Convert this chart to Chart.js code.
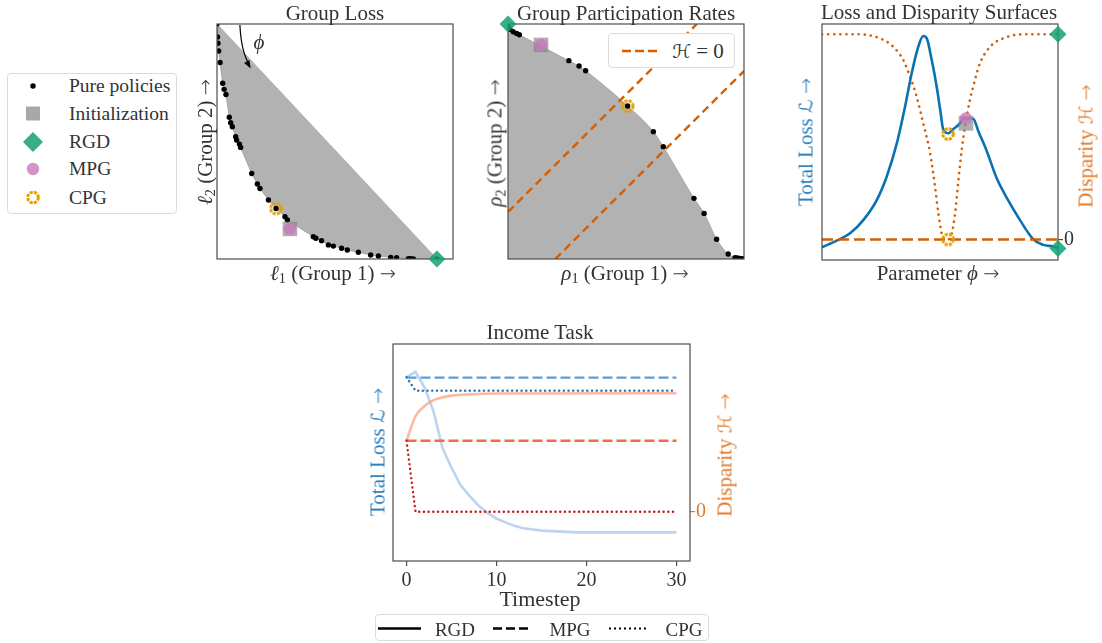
<!DOCTYPE html>
<html>
<head>
<meta charset="utf-8">
<script src="https://cdn.jsdelivr.net/npm/chart.js@4.4.1/dist/chart.umd.min.js"></script>
<style>
  html, body { margin: 0; padding: 0; background: #fff; }
  body { width: 1102px; height: 643px; position: relative; overflow: hidden;
         font-family: "Liberation Serif", "DejaVu Serif", serif; color: #333; }
  canvas { position: absolute; }
  .lbl { position: absolute; white-space: nowrap; line-height: 1; transform: translate(-50%, -50%); }
  .rot { transform: translate(-50%, -50%) rotate(-90deg); }
  sub { font-size: 0.68em; vertical-align: -0.28em; line-height: 0; }
  .arr { font-family: "DejaVu Sans", sans-serif; font-size: 0.92em; font-weight: 300; }
  .cal { font-family: "DejaVu Sans", sans-serif; font-style: italic; font-size: 0.9em; }
  .legend { position: absolute; border: 1px solid #dcdcdc; border-radius: 4px; box-sizing: border-box; background: #fff; }
  .legend svg { position: absolute; left: 0; top: 0; }
</style>
</head>
<body>

<canvas id="c1" width="268" height="267" style="left:201px;top:8px"></canvas>
<canvas id="c2" width="268" height="267" style="left:492px;top:8px"></canvas>
<canvas id="c3" width="284" height="268" style="left:806px;top:8px"></canvas>
<canvas id="c4" width="345" height="267" style="left:377px;top:328px"></canvas>

<!-- titles -->
<div class="lbl" style="left:335px;top:13px;font-size:21px">Group Loss</div>
<div class="lbl" style="left:626px;top:13px;font-size:21px">Group Participation Rates</div>
<div class="lbl" style="left:939px;top:12px;font-size:21px">Loss and Disparity Surfaces</div>
<div class="lbl" style="left:540px;top:332px;font-size:21px">Income Task</div>

<!-- axis labels -->
<div class="lbl" style="left:333px;top:273px;font-size:21px"><i>ℓ</i><sub>1</sub> (Group 1) <span class="arr">→</span></div>
<div class="lbl rot" style="left:205px;top:142px;font-size:21px"><i>ℓ</i><sub>2</sub> (Group 2) <span class="arr">→</span></div>
<div class="lbl" style="left:625px;top:273px;font-size:21px"><i>ρ</i><sub>1</sub> (Group 1) <span class="arr">→</span></div>
<div class="lbl rot" style="left:495px;top:143px;font-size:21px"><i>ρ</i><sub>2</sub> (Group 2) <span class="arr">→</span></div>
<div class="lbl" style="left:938px;top:273px;font-size:21px">Parameter <i>ϕ</i> <span class="arr">→</span></div>
<div class="lbl rot" style="left:806px;top:142px;font-size:21px;color:#2b7fba">Total Loss <span class="cal">ℒ</span> <span class="arr">→</span></div>
<div class="lbl rot" style="left:1086px;top:146px;font-size:21px;color:#e07a2c">Disparity <span class="cal">ℋ</span> <span class="arr">→</span></div>
<div class="lbl" style="left:540px;top:599px;font-size:22px">Timestep</div>
<div class="lbl rot" style="left:378px;top:452px;font-size:21px;color:#2b7fba">Total Loss <span class="cal">ℒ</span> <span class="arr">→</span></div>
<div class="lbl rot" style="left:725px;top:455px;font-size:21px;color:#e07a2c">Disparity <span class="cal">ℋ</span> <span class="arr">→</span></div>
<div class="lbl" style="left:259px;top:42px;font-size:21px"><i>ϕ</i></div>

<!-- marker legend -->
<div class="legend" style="left:7px;top:73px;width:170px;height:141px">
  <svg width="170" height="141">
    <circle cx="25" cy="12" r="2.7" fill="#000"/>
    <rect x="18" y="32.5" width="14" height="14" fill="#a8a8a8"/>
    <polygon points="25,58 35,68 25,78 15,68" fill="rgba(20,160,118,0.85)"/>
    <circle cx="25" cy="95" r="6.2" fill="rgba(204,120,188,0.8)"/>
    <circle cx="25" cy="123.5" r="5.3" fill="none" stroke="#e69f00" stroke-width="3" stroke-dasharray="3.1 1.1"/>
  </svg>
  <div class="lbl" style="left:61px;top:12px;font-size:19.5px;transform:translate(0,-50%)">Pure policies</div>
  <div class="lbl" style="left:61px;top:40px;font-size:19.5px;transform:translate(0,-50%)">Initialization</div>
  <div class="lbl" style="left:61px;top:68px;font-size:19.5px;transform:translate(0,-50%)">RGD</div>
  <div class="lbl" style="left:61px;top:95px;font-size:19.5px;transform:translate(0,-50%)">MPG</div>
  <div class="lbl" style="left:61px;top:123.5px;font-size:19.5px;transform:translate(0,-50%)">CPG</div>
</div>

<!-- H = 0 legend inside panel 2 -->
<div class="legend" style="left:608px;top:33px;width:127px;height:35px">
  <svg width="127" height="35">
    <line x1="13" y1="17" x2="48" y2="17" stroke="#d55e00" stroke-width="2.5" stroke-dasharray="9 4"/>
  </svg>
  <div class="lbl" style="left:89px;top:17px;font-size:21px"><span class="cal">ℋ</span> = 0</div>
</div>

<!-- method legend -->
<div class="legend" style="left:375px;top:614px;width:334px;height:27px">
  <svg width="334" height="27">
    <line x1="2" y1="13.5" x2="45" y2="13.5" stroke="#000" stroke-width="2.5"/>
    <line x1="117" y1="13.5" x2="153" y2="13.5" stroke="#000" stroke-width="2.5" stroke-dasharray="9 4"/>
    <line x1="233" y1="13.5" x2="272" y2="13.5" stroke="#000" stroke-width="2.2" stroke-dasharray="2 3"/>
  </svg>
  <div class="lbl" style="left:79px;top:13.5px;font-size:19px">RGD</div>
  <div class="lbl" style="left:194px;top:13.5px;font-size:19px">MPG</div>
  <div class="lbl" style="left:308px;top:13.5px;font-size:19px">CPG</div>
</div>

<script>
// ---- Group Loss panel (axes normalised to 0..1) ----
const groupLossL1 = [0, 0.002, 0.004, 0.007, 0.013, 0.024, 0.030, 0.038, 0.052, 0.058, 0.065, 0.079, 0.083, 0.095, 0.100,
                     0.147, 0.171, 0.182, 0.218, 0.250, 0.288, 0.298, 0.408, 0.419, 0.443, 0.472, 0.493, 0.528, 0.552,
                     0.599, 0.651, 0.684, 0.736, 0.761, 0.811, 0.821, 0.832, 0.932];
const groupLossL2 = [1.0, 0.945, 0.918, 0.885, 0.836, 0.748, 0.722, 0.700, 0.603, 0.580, 0.563, 0.520, 0.506, 0.489, 0.475,
                     0.364, 0.319, 0.300, 0.251, 0.215, 0.180, 0.166, 0.095, 0.088, 0.078, 0.060, 0.055, 0.046, 0.038,
                     0.029, 0.017, 0.013, 0.007, 0.006, 0.001, 0.001, 0, 0];
const lossChordL1 = [0, 0.932];
const lossChordL2 = [1, 0];
const lossRGD = [0.932, 0];
const lossCPG = [0.250, 0.215];
const lossMPG = [0.309, 0.128];
const lossInit = [0.309, 0.128];

// ---- Group Participation Rates panel ----
const groupRateR1 = [0, 0.008, 0.022, 0.037, 0.048, 0.258, 0.301, 0.329, 0.507, 0.616, 0.658, 0.788, 0.831, 0.884,
                     0.933, 0.962, 0.972, 0.982, 0.992, 1.0];
const groupRateR2 = [0.99, 0.977, 0.967, 0.960, 0.954, 0.844, 0.821, 0.801, 0.651, 0.542, 0.478, 0.258, 0.194, 0.084,
                     0.021, 0.006, 0.004, 0.002, 0.001, 0];
const parityLineA_R1 = [0, 0.8];
const parityLineA_R2 = [0.2, 1];
const parityLineB_R1 = [0.2, 1];
const parityLineB_R2 = [0, 0.8];
const rateRGD = [0, 1];
const rateCPG = [0.507, 0.651];
const rateMPG = [0.140, 0.911];
const rateInit = [0.140, 0.911];

// ---- Loss and Disparity Surfaces panel ----
const phiLoss = [0, 0.062, 0.119, 0.175, 0.232, 0.274, 0.317, 0.352, 0.380, 0.408, 0.429, 0.444, 0.465, 0.486, 0.503,
                 0.514, 0.535, 0.556, 0.578, 0.606, 0.641, 0.662, 0.698, 0.740, 0.783, 0.839, 0.895, 0.938, 0.981, 1.0];
const totalLoss = [0.054, 0.082, 0.113, 0.169, 0.254, 0.353, 0.494, 0.650, 0.791, 0.904, 0.949, 0.939, 0.847, 0.734, 0.621,
                   0.551, 0.537, 0.555, 0.572, 0.602, 0.599, 0.547, 0.462, 0.347, 0.263, 0.169, 0.088, 0.064, 0.057, 0.049];
const phiDisp = [0, 0.147, 0.246, 0.302, 0.344, 0.373, 0.401, 0.429, 0.458, 0.479, 0.493, 0.507, 0.521, 0.534, 0.550,
                 0.564, 0.578, 0.592, 0.606, 0.627, 0.648, 0.669, 0.712, 0.768, 0.853, 1.0];
const disparity = [1.0, 1.0, 0.980, 0.939, 0.875, 0.793, 0.696, 0.566, 0.420, 0.257, 0.128, 0.030, 0.0, 0.0, 0.030,
                   0.128, 0.290, 0.436, 0.550, 0.680, 0.777, 0.858, 0.939, 0.980, 1.0, 1.0];
const surfRGDLoss = [1, 0.049];
const surfRGDDisp = [1, 1.0];
const surfCPGLoss = [0.534, 0.534];
const surfCPGDisp = [0.534, 0];
const surfMPGLoss = [0.61, 0.600];
const surfInitLoss = [0.61, 0.579];

// ---- Income Task panel ----
const xTicksIncome = [0, 10, 20, 30];
const tRGDLoss = [0, 1, 2, 3, 4, 5, 6, 7, 8, 9, 10, 11, 12, 13, 15, 19, 30];
const rgdLossIncome = [0.847, 0.872, 0.80, 0.69, 0.52, 0.43, 0.35, 0.30, 0.255, 0.222, 0.195, 0.178, 0.162, 0.151, 0.140, 0.132, 0.132];
const tMPGLoss = [0, 30];
const mpgLossIncome = [0.845, 0.845];
const tCPGLoss = [0, 1, 30];
const cpgLossIncome = [0.847, 0.785, 0.785];
const tRGDDisp = [0, 1, 2, 3, 4, 5, 7, 10, 30];
const rgdDispIncome = [0.327, 0.44, 0.487, 0.514, 0.527, 0.535, 0.541, 0.545, 0.546];
const tMPGDisp = [0, 30];
const mpgDispIncome = [0.327, 0.327];
const tCPGDisp = [0, 1, 30];
const cpgDispIncome = [0.327, 0, 0];

// ---------------------------------------------------------------
const GREEN = 'rgba(20,160,118,0.85)';
const PINK = 'rgba(204,120,188,0.8)';
const GREYSQ = 'rgba(130,130,130,0.65)';
const FILLGREY = '#b2b2b2';
const VERMILLION = '#d55e00';

const pts = (xs, ys) => xs.map((x, i) => ({ x, y: ys[i] }));
const pt = p => [{ x: p[0], y: p[1] }];

// dashed orange ring used for the CPG marker
function ringStyle(r, lw, color) {
  const c = document.createElement('canvas');
  const s = Math.ceil(2 * r + lw + 2);
  c.width = c.height = s;
  const g = c.getContext('2d');
  g.strokeStyle = color;
  g.lineWidth = lw;
  g.setLineDash([3.1, 1.1]);
  g.beginPath();
  g.arc(s / 2, s / 2, r, 0, Math.PI * 2);
  g.stroke();
  return c;
}
const CPG_RING = ringStyle(5.3, 3, '#e69f00');

function marker(data, style, opts) {
  return Object.assign({
    data, showLine: false, pointStyle: style, borderWidth: 0, order: 1, clip: false
  }, opts);
}
const rgd = (d, axis) => marker(d, 'rectRot', { pointRadius: 8.5, backgroundColor: GREEN, yAxisID: axis || 'y' });
const cpg = (d, axis) => marker(d, CPG_RING, { pointRadius: 7, yAxisID: axis || 'y' });
const mpg = (d, axis) => marker(d, 'circle', { pointRadius: 6.2, backgroundColor: PINK, yAxisID: axis || 'y' });
const init = (d, axis) => marker(d, 'rect', { pointRadius: 10.3, backgroundColor: GREYSQ, yAxisID: axis || 'y' });

// axes frame; drawn before the markers so that markers sit on top
const boxPlugin = {
  id: 'box',
  beforeDatasetsDraw(chart) { chart.$boxDone = false; },
  beforeDatasetDraw(chart, args) {
    if (!chart.$boxDone && args.meta.order <= 1) drawBox(chart);
  },
  afterDatasetsDraw(chart) { if (!chart.$boxDone) drawBox(chart); }
};
function drawBox(chart) {
  const { ctx, chartArea: a } = chart;
  ctx.save();
  ctx.strokeStyle = '#4d4d4d';
  ctx.lineWidth = 1.2;
  ctx.strokeRect(a.left, a.top, a.right - a.left, a.bottom - a.top);
  ctx.restore();
  chart.$boxDone = true;
}

function hidden(min, max, extra) {
  return Object.assign({ type: 'linear', display: false, min, max }, extra);
}

function baseOptions(scales, padding) {
  return {
    responsive: false,
    animation: false,
    events: [],
    layout: { padding },
    plugins: { legend: { display: false }, tooltip: { enabled: false } },
    elements: { point: { hoverRadius: 0 } },
    scales
  };
}

// ---- panel 1: Group Loss ----
const phiArrow = { x: [0.097, 0.103, 0.143], y: [0.996, 0.88, 0.811] };
const arrowPlugin = {
  id: 'phiArrow',
  afterDatasetsDraw(chart) {
    const { ctx, scales: { x, y } } = chart;
    const p = phiArrow.x.map((v, i) => [x.getPixelForValue(v), y.getPixelForValue(phiArrow.y[i])]);
    ctx.save();
    ctx.strokeStyle = '#000';
    ctx.fillStyle = '#000';
    ctx.lineWidth = 1.2;
    ctx.beginPath();
    ctx.moveTo(p[0][0], p[0][1]);
    ctx.quadraticCurveTo(p[1][0], p[1][1], p[2][0] - 1.5, p[2][1] - 4);
    ctx.stroke();
    const ang = Math.atan2(p[2][1] - p[1][1], p[2][0] - p[1][0]);
    ctx.translate(p[2][0], p[2][1]);
    ctx.rotate(ang);
    ctx.beginPath();
    ctx.moveTo(0, 0);
    ctx.lineTo(-8, -3);
    ctx.lineTo(-8, 3);
    ctx.closePath();
    ctx.fill();
    ctx.restore();
  }
};

new Chart(document.getElementById('c1'), {
  type: 'line',
  data: {
    datasets: [
      rgd(pt(lossRGD)),
      cpg(pt(lossCPG)),
      mpg(pt(lossMPG)),
      init(pt(lossInit)),
      { data: pts(groupLossL1, groupLossL2), showLine: false, pointRadius: 2.7, backgroundColor: '#000', borderWidth: 0, order: 2 },
      { data: pts(groupLossL1, groupLossL2), pointRadius: 0, borderColor: '#9c9c9c', borderWidth: 0.8,
        backgroundColor: FILLGREY, fill: 6, order: 3 },
      { data: pts(lossChordL1, lossChordL2), pointRadius: 0, borderColor: '#9c9c9c', borderWidth: 0.8, order: 3 }
    ]
  },
  options: baseOptions({ x: hidden(0, 1), y: hidden(0, 1) }, 16),
  plugins: [boxPlugin, arrowPlugin]
});

// ---- panel 2: Group Participation Rates ----
const parityStyle = { pointRadius: 0, borderColor: VERMILLION, borderWidth: 2.4, borderDash: [8, 5], order: 2.5 };
new Chart(document.getElementById('c2'), {
  type: 'line',
  data: {
    datasets: [
      rgd(pt(rateRGD)),
      cpg(pt(rateCPG)),
      mpg(pt(rateMPG)),
      init(pt(rateInit)),
      { data: pts(groupRateR1, groupRateR2), showLine: false, pointRadius: 2.7, backgroundColor: '#000', borderWidth: 0, order: 2 },
      Object.assign({ data: pts(parityLineA_R1, parityLineA_R2) }, parityStyle),
      Object.assign({ data: pts(parityLineB_R1, parityLineB_R2) }, parityStyle),
      { data: pts(groupRateR1, groupRateR2), pointRadius: 0, borderColor: '#9c9c9c', borderWidth: 0.8,
        backgroundColor: FILLGREY, fill: 'origin', cubicInterpolationMode: 'monotone', order: 3 }
    ]
  },
  options: baseOptions({ x: hidden(0, 1), y: hidden(0, 1) }, 16),
  plugins: [boxPlugin]
});

// ---- panel 3: Loss and Disparity Surfaces ----
new Chart(document.getElementById('c3'), {
  type: 'line',
  data: {
    datasets: [
      rgd(pt(surfRGDDisp), 'yR'),
      rgd(pt(surfRGDLoss), 'y'),
      cpg(pt(surfCPGLoss), 'y'),
      cpg(pt(surfCPGDisp), 'yR'),
      mpg(pt(surfMPGLoss), 'y'),
      init(pt(surfInitLoss), 'y'),
      { data: [{ x: 0, y: 0 }, { x: 1, y: 0 }], yAxisID: 'yR', pointRadius: 0, borderColor: VERMILLION,
        borderWidth: 2.4, borderDash: [11, 5], order: 2 },
      { data: pts(phiLoss, totalLoss), yAxisID: 'y', pointRadius: 0, borderColor: '#0a72b4', borderWidth: 2.6,
        cubicInterpolationMode: 'monotone', order: 3 },
      { data: pts(phiDisp, disparity), yAxisID: 'yR', pointRadius: 0, borderColor: VERMILLION, borderWidth: 2.6,
        borderDash: [0.1, 6], borderCapStyle: 'round', cubicInterpolationMode: 'monotone', order: 3 }
    ]
  },
  options: baseOptions({
    x: hidden(0, 1),
    y: hidden(0, 1, { position: 'left' }),
    yR: {
      type: 'linear', position: 'right', min: -0.1, max: 1.05,
      afterBuildTicks: s => { s.ticks = [{ value: 0 }]; },
      afterFit: s => { s.width = 28; },
      grid: { display: true, drawOnChartArea: false, drawTicks: true, tickLength: 5, color: '#4d4d4d', lineWidth: 1.2 },
      border: { display: false },
      ticks: { color: '#333', padding: 1, font: { family: 'Liberation Serif', size: 20 } }
    }
  }, { left: 16, top: 16, bottom: 16, right: 4 }),
  plugins: [boxPlugin]
});

// ---- panel 4: Income Task ----
const blueRGD = 'rgba(170,203,234,0.8)';
const redRGD = 'rgba(251,160,128,0.75)';
new Chart(document.getElementById('c4'), {
  type: 'line',
  data: {
    datasets: [
      { data: pts(tCPGDisp, cpgDispIncome), yAxisID: 'yR', borderColor: '#c8171e', borderWidth: 2.4,
        borderDash: [0.1, 4.6], borderCapStyle: 'round', pointRadius: 0 },
      { data: pts(tMPGDisp, mpgDispIncome), yAxisID: 'yR', borderColor: '#f8694a', borderWidth: 2.4,
        borderDash: [10, 4], pointRadius: 0 },
      { data: pts(tCPGLoss, cpgLossIncome), yAxisID: 'y', borderColor: '#2b6cb3', borderWidth: 2.4,
        borderDash: [0.1, 4.6], borderCapStyle: 'round', pointRadius: 0 },
      { data: pts(tMPGLoss, mpgLossIncome), yAxisID: 'y', borderColor: '#5e9fd8', borderWidth: 2.4,
        borderDash: [10, 4], pointRadius: 0 },
      { data: pts(tRGDDisp, rgdDispIncome), yAxisID: 'yR', borderColor: redRGD, borderWidth: 2.6,
        cubicInterpolationMode: 'monotone', pointRadius: 0 },
      { data: pts(tRGDLoss, rgdLossIncome), yAxisID: 'y', borderColor: blueRGD, borderWidth: 2.6,
        pointRadius: 0 }
    ]
  },
  options: baseOptions({
    x: {
      type: 'linear', min: -1.5, max: 31.5,
      afterBuildTicks: s => { s.ticks = xTicksIncome.map(v => ({ value: v })); },
      afterFit: s => { s.height = 30; },
      grid: { display: true, drawOnChartArea: false, drawTicks: true, tickLength: 5, color: '#4d4d4d', lineWidth: 1.2 },
      border: { display: false },
      ticks: { color: '#333', padding: 3, maxRotation: 0, font: { family: 'Liberation Serif', size: 20 } }
    },
    y: hidden(0, 1, { position: 'left' }),
    yR: {
      type: 'linear', position: 'right', min: -0.227, max: 0.773,
      afterBuildTicks: s => { s.ticks = [{ value: 0 }]; },
      afterFit: s => { s.width = 28; },
      grid: { display: true, drawOnChartArea: false, drawTicks: true, tickLength: 5, color: '#e07a2c', lineWidth: 1.2 },
      border: { display: false },
      ticks: { color: '#e07a2c', padding: 1, font: { family: 'Liberation Serif', size: 20 } }
    }
  }, { left: 16, top: 16, bottom: 4, right: 4 }),
  plugins: [boxPlugin]
});
</script>
</body>
</html>
